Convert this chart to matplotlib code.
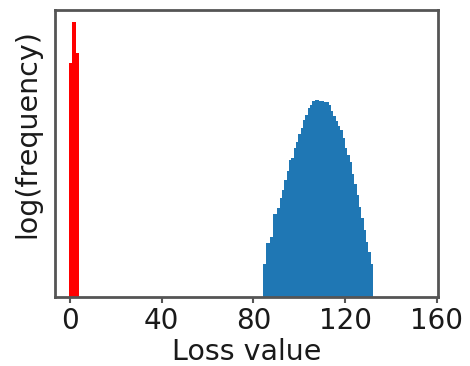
import numpy as np
import matplotlib
matplotlib.use("Agg")
import matplotlib.pyplot as plt

# red: losses clustered near zero
red_edges = [-0.3, 1.1, 2.6, 4.0]
red_counts = [751, 2893, 1044]

# blue: losses spread over ~84..132
blue_lo, blue_hi = 84.3, 132.2
blue_counts = [1.0, 2.0, 2.0, 2.48, 5.18, 5.18, 6.31, 8.77, 11.5, 16.0,
               21.5, 30.9, 33.3, 45.4, 56.4, 72.0, 89.4, 115, 136, 169,
               189, 215, 222, 222, 215, 215, 208, 208, 189, 155, 133,
               111, 95.5, 83, 63, 46.3, 36.4, 29.2, 19.3, 13.9, 9.77,
               6.65, 4.54, 3.09, 2.10, 1.51, 1.0]

xticks = [0, 40, 80, 120, 160]

fig = plt.figure(figsize=(4.7, 3.66), dpi=100)
ax = fig.add_axes([0.117, 0.1885, 0.815, 0.784])

blue_edges = np.linspace(blue_lo, blue_hi, len(blue_counts) + 1)
blue_mid = (blue_edges[:-1] + blue_edges[1:]) / 2
red_mid = (np.array(red_edges[:-1]) + np.array(red_edges[1:])) / 2

ax.hist(blue_mid, bins=blue_edges, weights=blue_counts, color="#1f77b4", log=True)
ax.hist(red_mid, bins=red_edges, weights=red_counts, color="red", log=True)

ax.set_yscale("log")
ax.set_ylim(0.341, 4295)
ax.set_xlim(-6.5, 160.5)
ax.set_yticks([])
ax.set_yticks([], minor=True)
ax.set_xticks(xticks)
ax.tick_params(axis="x", labelsize=20, color="#555555", width=1.5, length=4,
               labelcolor="#1a1a1a")
ax.set_xlabel("Loss value", fontsize=20.5, labelpad=2, color="#1a1a1a")
ax.set_ylabel("log(frequency)", fontsize=20.5, color="#1a1a1a")
ax.yaxis.set_label_coords(-0.036, 0.568)
for s in ax.spines.values():
    s.set_color("#555555")
    s.set_linewidth(2)

fig.savefig("out.png", dpi=100)
